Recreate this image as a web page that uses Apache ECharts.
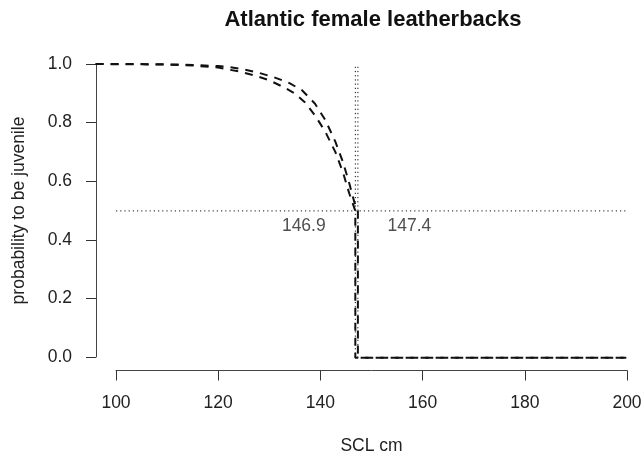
<!DOCTYPE html>
<html>
<head>
<meta charset="utf-8">
<script src="https://cdn.jsdelivr.net/npm/echarts@6/dist/echarts.min.js"></script>
<style>html,body{margin:0;padding:0;background:#fff}#c{width:644px;height:458px}</style>
</head>
<body>
<div id="c"></div>
<script>
// Curve A (maturity at 146.9)
const xA = [96, 105, 110, 115, 120, 124, 127, 130, 133, 135, 137, 139, 141, 143, 144.5, 145.7, 146.9, 146.9, 200];
const yA = [1.0, 0.999, 0.998, 0.995, 0.988, 0.975, 0.962, 0.945, 0.92, 0.90, 0.87, 0.825, 0.77, 0.70, 0.63, 0.56, 0.5, 0.0, 0.0];
// Curve B (maturity at 147.4)
const xB = [96, 105, 110, 115, 120, 122, 125, 128, 131, 134, 136.5, 139, 141, 143, 144.5, 145.7, 146.7, 147.4, 147.4, 200];
const yB = [1.0, 1.0, 0.999, 0.997, 0.993, 0.99, 0.982, 0.97, 0.955, 0.935, 0.91, 0.865, 0.81, 0.735, 0.665, 0.595, 0.53, 0.5, 0.0, 0.0];
const cutoffs = [146.9, 147.4];
const cutoffLabelX = [136.8, 157.5];
const cutoffLabelY = 0.447;
const halfLevel = 0.5;
const xTicks = [100, 120, 140, 160, 180, 200];
const yTicks = [0.0, 0.2, 0.4, 0.6, 0.8, 1.0];
// R-style plot region: data range extended 4% on each side
const xUsr = [96, 204];
const yUsr = [-0.04, 1.04];

const font = '"Liberation Sans", Arial, Helvetica, sans-serif';
const zip = (xs, ys) => xs.map((x, i) => [x, ys[i]]);

const dashed = {type: [8, 7], width: 2, color: '#111'};
const dotted = {type: [1.2, 3], width: 1, color: '#111'};
const onData = {xAxisIndex: 0, yAxisIndex: 0};

const series = [
  Object.assign({type: 'line', data: zip(xA, yA), showSymbol: false, symbol: 'none', lineStyle: dashed, clip: false, silent: true}, onData),
  Object.assign({type: 'line', data: zip(xB, yB), showSymbol: false, symbol: 'none', lineStyle: dashed, clip: false, silent: true}, onData),
  Object.assign({type: 'line', data: [[xTicks[0], halfLevel], [xTicks[xTicks.length - 1], halfLevel]], symbol: 'none', lineStyle: dotted, clip: false, silent: true}, onData)
];
cutoffs.forEach(c => {
  series.push(Object.assign({type: 'line', data: [[c, yTicks[0]], [c, yTicks[yTicks.length - 1]]], symbol: 'none', lineStyle: dotted, clip: false, silent: true}, onData));
});
series.push(Object.assign({
  type: 'scatter', symbolSize: 0, silent: true, clip: false,
  data: cutoffs.map((c, i) => ({value: [cutoffLabelX[i], cutoffLabelY], name: c.toFixed(1)})),
  label: {show: true, position: 'inside', formatter: p => p.name, fontFamily: font, fontSize: 17.5, color: '#222'}
}, onData));

const hiddenAxis = {show: false};
const chart = echarts.init(document.getElementById('c'), null, {renderer: 'canvas'});
chart.setOption({
  animation: false,
  backgroundColor: '#fff',
  title: {
    text: 'Atlantic female leatherbacks', left: 368, top: 4, textAlign: 'center',
    textStyle: {fontFamily: font, fontSize: 22, fontWeight: 'bold', color: '#111'}
  },
  grid: [
    {left: 95.6, top: 52.3, width: 551.1, height: 317.2, containLabel: false, outerBoundsMode: 'none'},
    {left: 116, top: 64, width: 511, height: 293, containLabel: false, outerBoundsMode: 'none'}
  ],
  xAxis: [
    Object.assign({type: 'value', gridIndex: 0, min: xUsr[0], max: xUsr[1]}, hiddenAxis),
    {
      type: 'value', gridIndex: 1, min: 100, max: 200, interval: 20, offset: 13.5,
      name: 'SCL cm', nameLocation: 'middle', nameGap: 67,
      nameTextStyle: {fontFamily: font, fontSize: 17.5, color: '#222'},
      axisLine: {show: true, onZero: false, lineStyle: {color: '#444', width: 1}},
      axisTick: {show: true, length: 10, lineStyle: {color: '#333'}},
      axisLabel: {fontFamily: font, fontSize: 17.5, color: '#222', margin: 24},
      splitLine: {show: false}
    }
  ],
  yAxis: [
    Object.assign({type: 'value', gridIndex: 0, min: yUsr[0], max: yUsr[1]}, hiddenAxis),
    {
      type: 'value', gridIndex: 1, min: 0, max: 1, interval: 0.2, offset: 20,
      name: 'probability to be juvenile', nameLocation: 'middle', nameGap: 68, nameRotate: 90,
      nameTextStyle: {fontFamily: font, fontSize: 17.5, color: '#222'},
      axisLine: {show: true, onZero: false, lineStyle: {color: '#444', width: 1}},
      axisTick: {show: true, length: 10, lineStyle: {color: '#333'}},
      axisLabel: {fontFamily: font, fontSize: 17.5, color: '#222', margin: 24, formatter: v => v.toFixed(1)},
      splitLine: {show: false}
    }
  ],
  series: series
});
</script>
</body>
</html>
